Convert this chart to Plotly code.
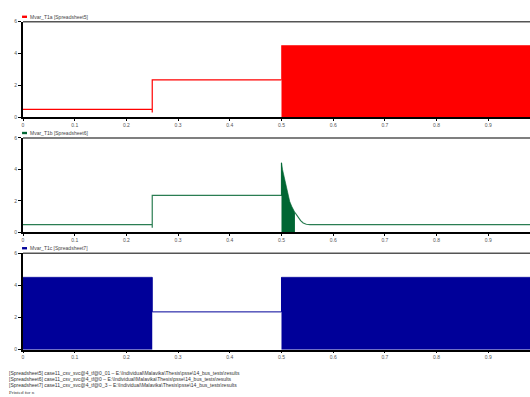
import plotly.graph_objects as go

# Time axis limit visible in the window (s)
T_END = 0.9807

# --- Mvar_T1a [Spreadsheet5] ---
t1a_step_t = [0.0, 0.25, 0.25, 0.25, 0.5]
t1a_step_v = [0.5, 0.5, 0.3, 2.35, 2.35]
t1a_band_t = [0.5, 0.5, T_END]
t1a_band_v = [2.35, 4.5, 4.5]

# --- Mvar_T1b [Spreadsheet6] ---
t1b_step_t = [0.0, 0.25, 0.25, 0.25, 0.5, 0.5]
t1b_step_v = [0.5, 0.5, 0.3, 2.35, 2.35, 4.42]
t1b_burst_t = [0.5, 0.5, 0.502, 0.507, 0.512, 0.516, 0.52, 0.523, 0.526]
t1b_burst_v = [2.35, 4.42, 4.0, 3.3, 2.5, 1.96, 1.65, 1.44, 1.27]
t1b_tail_t = [0.526, 0.53, 0.5326, 0.537, 0.542, 0.548, 0.555, T_END]
t1b_tail_v = [1.27, 1.05, 0.92, 0.75, 0.6, 0.52, 0.5, 0.5]

# --- Mvar_T1c [Spreadsheet7] ---
t1c_band1_t = [0.0, 0.25]
t1c_band1_v = [4.5, 4.5]
t1c_step_t = [0.25, 0.25, 0.5, 0.5]
t1c_step_v = [4.5, 2.35, 2.35, 4.5]
t1c_band2_t = [0.5, T_END]
t1c_band2_v = [4.5, 4.5]

x_ticks = [0, 0.1, 0.2, 0.3, 0.4, 0.5, 0.6, 0.7, 0.8, 0.9]
x_tick_text = ["0", "0.1", "0.2", "0.3", "0.4", "0.5", "0.6", "0.7", "0.8", "0.9"]
y_ticks = [0, 2, 4, 6]

legend_names = ["Mvar_T1a [Spreadsheet5]", "Mvar_T1b [Spreadsheet6]", "Mvar_T1c [Spreadsheet7]"]
footer_lines = [
    "[Spreadsheet5] case11_csv_svc@4_tf@0_01 – E:\\Individual\\Malavika\\Thesis\\psse\\14_bus_tests\\results",
    "[Spreadsheet6] case11_csv_svc@4_tf@0 – E:\\Individual\\Malavika\\Thesis\\psse\\14_bus_tests\\results",
    "[Spreadsheet7] case11_csv_svc@4_tf@0_3 – E:\\Individual\\Malavika\\Thesis\\psse\\14_bus_tests\\results",
]
printed_note = "Printed for n"

RED = "#ff0000"
GREEN = "#006633"
GREEN_LINE = "#2a7d52"
BLUE = "#000099"

W, H = 530, 397
# panel top/bottom in pixels from the top edge
panels = [(19, 116), (137, 233), (254, 352)]
domains = [[1 - b / H, 1 - t / H] for t, b in panels]

fig = go.Figure()

def line(x, y, color, ax, width=1.2):
    fig.add_trace(go.Scatter(x=x, y=y, mode="lines", line=dict(color=color, width=width),
                             xaxis=ax[0], yaxis=ax[1], showlegend=False, hoverinfo="skip"))

def band(x, y, color, ax):
    fig.add_trace(go.Scatter(x=x, y=y, mode="lines", fill="tozeroy", fillcolor=color,
                             line=dict(color=color, width=0.6),
                             xaxis=ax[0], yaxis=ax[1], showlegend=False, hoverinfo="skip"))

axes = [("x", "y"), ("x2", "y2"), ("x3", "y3")]

line(t1a_step_t, t1a_step_v, RED, axes[0])
band(t1a_band_t, t1a_band_v, RED, axes[0])

line(t1b_step_t, t1b_step_v, GREEN_LINE, axes[1])
band(t1b_burst_t, t1b_burst_v, GREEN, axes[1])
line(t1b_tail_t, t1b_tail_v, GREEN_LINE, axes[1])

band(t1c_band1_t, t1c_band1_v, BLUE, axes[2])
line(t1c_step_t, t1c_step_v, BLUE, axes[2], width=1)
band(t1c_band2_t, t1c_band2_v, BLUE, axes[2])

tick_font = dict(family="Liberation Sans, Arial, sans-serif", size=5, color="#555555")
layout = dict(
    width=W, height=H,
    margin=dict(l=23, r=0, t=0, b=0),
    paper_bgcolor="white", plot_bgcolor="white",
    showlegend=False,
)
colors = [RED, GREEN, BLUE]
shapes, annotations = [], []
for i, dom in enumerate(domains):
    sfx = "" if i == 0 else str(i + 1)
    layout["xaxis" + sfx] = dict(
        domain=[0, 1], range=[0, T_END], anchor="y" + sfx,
        tickvals=x_ticks, ticktext=x_tick_text, tickfont=tick_font,
        ticks="outside", ticklen=2, tickwidth=1, tickcolor="black",
        showline=True, linecolor="black", linewidth=1.5,
        showgrid=False, zeroline=False, fixedrange=True,
    )
    layout["yaxis" + sfx] = dict(
        domain=dom, range=[0, 6], anchor="x" + sfx,
        tickvals=y_ticks, tickfont=tick_font,
        ticks="outside", ticklen=3, tickwidth=1, tickcolor="black",
        showline=True, linecolor="black", linewidth=2,
        showgrid=False, zeroline=False, fixedrange=True,
    )
    # gray frame line along the panel top
    shapes.append(dict(type="line", xref="x" + sfx + " domain", yref="y" + sfx + " domain",
                       x0=0, x1=1, y0=1, y1=1, line=dict(color="#555555", width=1.5)))
    # legend swatch and label above each panel
    ytop = 1 - (panels[i][0] - 5) / H
    shapes.append(dict(type="rect", xref="paper", yref="paper",
                       x0=-1 / W * 1, x1=4 / (W - 23), y0=ytop - 1.2 / H, y1=ytop + 1.2 / H,
                       fillcolor=colors[i], line=dict(width=0)))
    annotations.append(dict(text=legend_names[i], xref="paper", yref="paper",
                            x=5 / (W - 23), y=ytop, xanchor="left", yanchor="middle",
                            showarrow=False, font=dict(family="Liberation Sans, Arial, sans-serif",
                                                       size=5, color="#444444")))

footer_y = [376, 382, 388]
for txt, yy in zip(footer_lines, footer_y):
    annotations.append(dict(text=txt, xref="paper", yref="paper",
                            x=-16 / (W - 23), y=1 - yy / H, xanchor="left", yanchor="middle",
                            showarrow=False, font=dict(family="Liberation Sans, Arial, sans-serif",
                                                       size=5, color="#333333")))
annotations.append(dict(text=printed_note, xref="paper", yref="paper",
                        x=-16 / (W - 23), y=1 - 395 / H, xanchor="left", yanchor="middle",
                        showarrow=False, font=dict(family="Liberation Serif, Times New Roman, serif",
                                                   size=5, color="#333333")))

layout["shapes"] = shapes
layout["annotations"] = annotations
fig.update_layout(**layout)

fig.write_html("out.html", config={"displayModeBar": False})
